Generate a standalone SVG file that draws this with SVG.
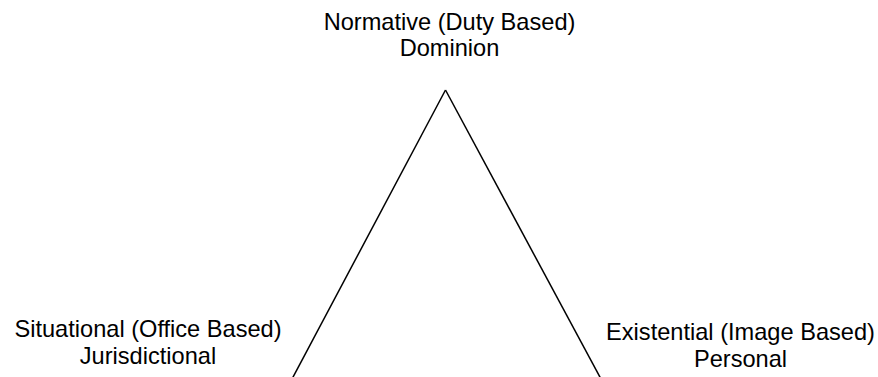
<svg xmlns="http://www.w3.org/2000/svg" width="878" height="377" viewBox="0 0 878 377">
  <style>
    .lbl { font-family: "Liberation Sans", Arial, Helvetica, sans-serif; font-size: 23.6px; fill: #000; text-anchor: middle; }
    .edge { stroke: #000; stroke-width: 1.5; fill: none; }
  </style>
  <rect width="878" height="377" fill="#fff"/>
  <g id="connectors">
    <line class="edge" x1="445.5" y1="90" x2="292" y2="379"/>
    <line class="edge" x1="445.5" y1="90" x2="601" y2="379"/>
  </g>
  <g id="node-normative">
    <text class="lbl" x="449.5" y="30">Normative (Duty Based)</text>
    <text class="lbl" x="449.5" y="56">Dominion</text>
  </g>
  <g id="node-situational">
    <text class="lbl" x="148" y="337">Situational (Office Based)</text>
    <text class="lbl" x="148" y="364">Jurisdictional</text>
  </g>
  <g id="node-existential">
    <text class="lbl" x="740.5" y="340">Existential (Image Based)</text>
    <text class="lbl" x="740.5" y="367">Personal</text>
  </g>
</svg>
